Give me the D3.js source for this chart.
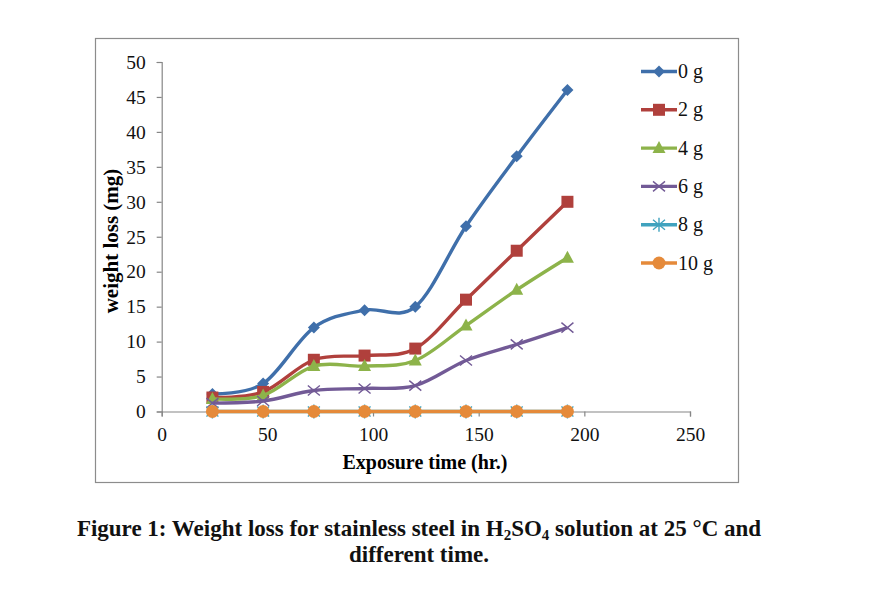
<!DOCTYPE html>
<html>
<head>
<meta charset="utf-8">
<script src="https://cdn.jsdelivr.net/npm/d3@7"></script>
<style>
  body { margin: 0; background: #fff; }
  text { font-family: "Liberation Serif", "Times New Roman", serif; }
</style>
</head>
<body>
<div id="chart"></div>
<script>
// exposure times (hr)
const hours = [24, 48, 72, 96, 120, 144, 168, 192];
const seriesNames = ["0 g", "2 g", "4 g", "6 g", "8 g", "10 g"];
const loss0 = [2.5, 4, 12, 14.5, 15, 26.5, 36.5, 46];
const loss2 = [2, 2.8, 7.4, 8, 9, 16, 23, 30];
const loss4 = [1.8, 2.3, 6.5, 6.5, 7.3, 12.3, 17.4, 22];
const loss6 = [1.2, 1.5, 3, 3.3, 3.7, 7.3, 9.6, 12];
const loss8 = [0, 0, 0, 0, 0, 0, 0, 0];
const loss10 = [0, 0, 0, 0, 0, 0, 0, 0];
const xTicks = [0, 50, 100, 150, 200, 250];
const yTicks = [0, 5, 10, 15, 20, 25, 30, 35, 40, 45, 50];

const allLoss = [loss0, loss2, loss4, loss6, loss8, loss10];
const colors = ["#3F6FAA", "#B0403C", "#8DB34A", "#725A96", "#3FA2BE", "#E58A3A"];
const symbols = ["diamond", "square", "triangle", "x", "star", "circle"];

const W = 888, H = 596;
const svg = d3.select("#chart").append("svg")
  .attr("width", W).attr("height", H);

// outer chart frame
svg.append("rect")
  .attr("x", 95.5).attr("y", 38.5)
  .attr("width", 643).attr("height", 444)
  .attr("fill", "none").attr("stroke", "#8c8c8c").attr("stroke-width", 1.2);

const x = d3.scaleLinear().domain([0, 250]).range([161.7, 690]);
const y = d3.scaleLinear().domain([0, 50]).range([411.5, 62]);

// y axis
const yAxis = svg.append("g")
  .attr("transform", `translate(${x(0)},0)`)
  .call(d3.axisLeft(y).tickValues(yTicks).tickSize(5).tickPadding(11));
// x axis
const xAxis = svg.append("g")
  .attr("transform", `translate(0,${y(0)})`)
  .call(d3.axisBottom(x).tickValues(xTicks).tickSize(5).tickPadding(11));

[yAxis, xAxis].forEach(a => {
  a.select(".domain").attr("stroke", "#868686").attr("stroke-width", 1.2);
  a.selectAll(".tick line").attr("stroke", "#868686").attr("stroke-width", 1.2);
  a.selectAll("text")
    .style("font-family", "'Liberation Serif', serif")
    .style("font-size", "19.5px")
    .attr("fill", "#111");
});

// axis titles
svg.append("text")
  .attr("x", 425).attr("y", 469)
  .attr("text-anchor", "middle")
  .style("font-size", "20px").style("font-weight", "bold")
  .text("Exposure time (hr.)");

svg.append("text")
  .attr("transform", "translate(118,241) rotate(-90)")
  .attr("text-anchor", "middle")
  .style("font-size", "21px").style("font-weight", "bold")
  .text("weight loss (mg)");

// marker shapes
function marker(g, kind, color) {
  if (kind === "diamond") {
    g.append("path").attr("d", "M0,-6L6,0L0,6L-6,0Z").attr("fill", color);
  } else if (kind === "square") {
    g.append("rect").attr("x", -6).attr("y", -6).attr("width", 12).attr("height", 12).attr("fill", color);
  } else if (kind === "triangle") {
    g.append("path").attr("d", "M0,-7L6.5,5L-6.5,5Z").attr("fill", color);
  } else if (kind === "x") {
    g.append("path").attr("d", "M-6,-5L6,5M-6,5L6,-5").attr("stroke", color).attr("stroke-width", 1.4);
  } else if (kind === "star") {
    g.append("path").attr("d", "M-6,-5L6,5M-6,5L6,-5M0,-7L0,7").attr("stroke", color).attr("stroke-width", 1.4);
  } else {
    g.append("circle").attr("r", 6.5).attr("fill", color);
  }
}

const line = d3.line()
  .x((d, i) => x(hours[i]))
  .y(d => y(d))
  .curve(d3.curveCardinal.tension(0));

allLoss.forEach((vals, s) => {
  svg.append("path")
    .datum(vals)
    .attr("d", line)
    .attr("fill", "none")
    .attr("stroke", colors[s])
    .attr("stroke-width", 3.4);
  vals.forEach((v, i) => {
    const g = svg.append("g").attr("transform", `translate(${x(hours[i])},${y(v)})`);
    marker(g, symbols[s], colors[s]);
  });
});

// legend
seriesNames.forEach((name, s) => {
  const ly = 71.5 + s * 38.3;
  const lg = svg.append("g").attr("transform", `translate(641,${ly})`);
  lg.append("line").attr("x1", 0).attr("x2", 36).attr("y1", 0).attr("y2", 0)
    .attr("stroke", colors[s]).attr("stroke-width", 3.4);
  const mg = lg.append("g").attr("transform", "translate(18,0)");
  marker(mg, symbols[s], colors[s]);
  lg.append("text").attr("x", 37).attr("y", 6.5)
    .style("font-size", "20px").attr("fill", "#111")
    .text(name);
});

// caption
const cap = svg.append("text")
  .attr("x", 419).attr("y", 536)
  .attr("text-anchor", "middle")
  .style("font-size", "23px").style("font-weight", "bold").attr("fill", "#111");
cap.append("tspan").text("Figure 1: Weight loss for stainless steel in H");
cap.append("tspan").attr("dy", 4).style("font-size", "15px").text("2");
cap.append("tspan").attr("dy", -4).text("SO");
cap.append("tspan").attr("dy", 4).style("font-size", "15px").text("4");
cap.append("tspan").attr("dy", -4).text(" solution at 25 °C and");

svg.append("text")
  .attr("x", 419).attr("y", 562)
  .attr("text-anchor", "middle")
  .style("font-size", "23px").style("font-weight", "bold").attr("fill", "#111")
  .text("different time.");
</script>
</body>
</html>
